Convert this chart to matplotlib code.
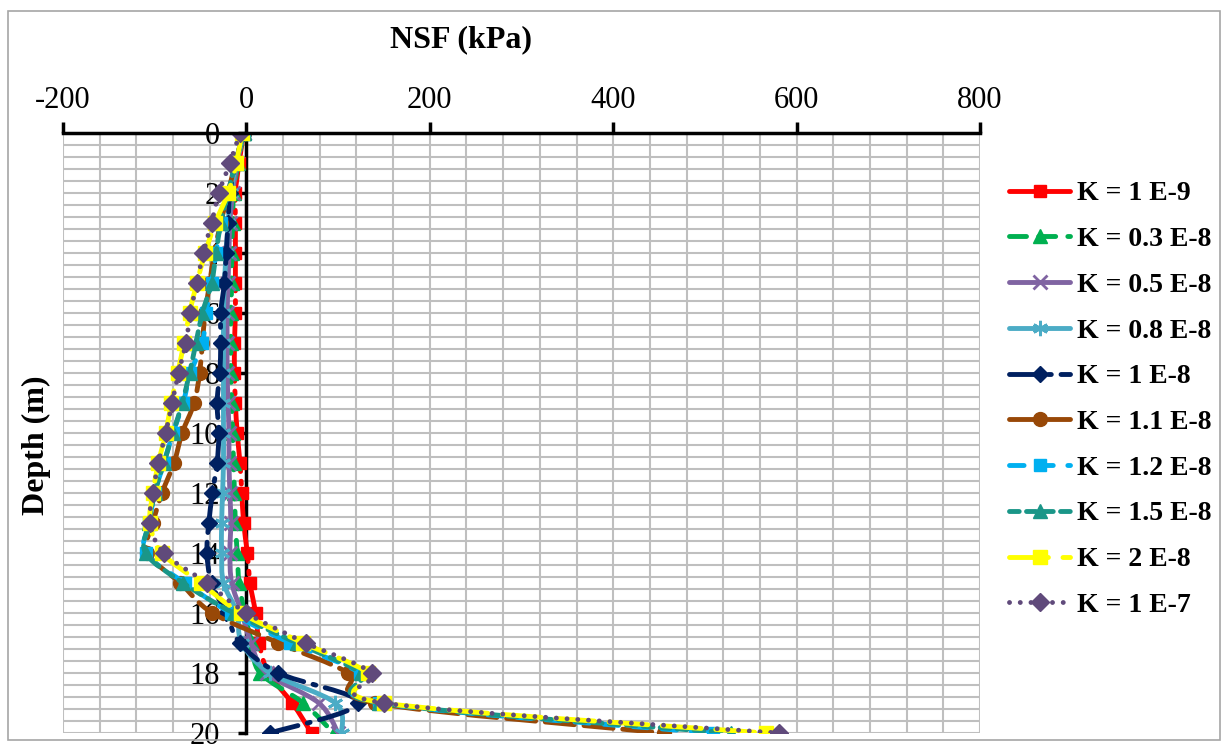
import matplotlib
matplotlib.use("Agg")
import matplotlib.pyplot as plt
from matplotlib.patches import Rectangle, PathPatch
from matplotlib.path import Path
from matplotlib.lines import Line2D
import numpy as np

plt.rcParams['font.family'] = ['Liberation Serif', 'DejaVu Serif']
plt.rcParams['axes.unicode_minus'] = False

depth = list(range(0, 21))

nsf_k1e9 = [-3, -8, -12, -12, -12, -12, -12, -13, -13, -12, -10, -7, -5, -3, 1, 4, 10, 14, 24, 50, 71]
nsf_k03e8 = [-3, -9, -14, -15, -16, -16, -17, -17, -17, -16, -15, -14, -13, -12, -10, -8, -2, 6, 15, 62, 95]
nsf_k05e8 = [-3, -10, -15, -18, -19, -20, -21, -21, -21, -20, -19, -19, -18, -17, -18, -16, -5, 5, 22, 79, 100]
nsf_k08e8 = [-3, -11, -17, -20, -22, -24, -25, -25, -25, -25, -25, -25, -26, -27, -27, -25, -10, -5, 26, 97, 104]
nsf_k1e8 = [-3, -12, -18, -20, -22, -24, -28, -28, -29, -32, -30, -32, -37, -41, -43, -38, -22, -7, 35, 122, 26]
nsf_k11e8 = [-3, -12, -20, -28, -35, -40, -45, -48, -51, -57, -70, -79, -92, -102, -108, -72, -37, 35, 111, 140, 455]
nsf_k12e8 = [-3, -12, -20, -28, -33, -38, -44, -48, -61, -69, -80, -90, -100, -106, -110, -67, -17, 48, 124, 145, 509]
nsf_k15e8 = [-3, -12, -20, -28, -33, -38, -48, -55, -62, -70, -80, -90, -100, -106, -110, -69, -14, 55, 125, 145, 528]
nsf_k2e8 = [-5, -11, -20, -34, -45, -54, -62, -68, -75, -82, -88, -96, -102, -105, -92, -50, -6, 62, 133, 150, 567]
nsf_k1e7 = [-7, -18, -30, -38, -47, -54, -61, -66, -74, -81, -88, -96, -102, -105, -90, -43, 0, 65, 137, 150, 581]

labels = ["K = 1 E-9", "K = 0.3 E-8", "K = 0.5 E-8", "K = 0.8 E-8", "K = 1 E-8",
          "K = 1.1 E-8", "K = 1.2 E-8", "K = 1.5 E-8", "K = 2 E-8", "K = 1 E-7"]

series = [nsf_k1e9, nsf_k03e8, nsf_k05e8, nsf_k08e8, nsf_k1e8,
          nsf_k11e8, nsf_k12e8, nsf_k15e8, nsf_k2e8, nsf_k1e7]

styles = [
    dict(color="#FF0000", ls=(0, (14, 2, 0.6, 2)), marker="s", ms=9),
    dict(color="#00B050", ls=(0, (3.5, 2.5)), marker="^", ms=10),
    dict(color="#8064A2", ls="-", marker="x", ms=10, mew=2),
    dict(color="#4BACC6", ls="-", marker=(6, 2, 0), ms=11, mew=2),
    dict(color="#002060", ls=(0, (6, 2, 0.6, 2)), marker="D", ms=8.5),
    dict(color="#984807", ls=(0, (6, 2)), marker="o", ms=10),
    dict(color="#00B0F0", ls=(0, (3, 3)), marker="s", ms=9),
    dict(color="#1A9688", ls=(0, (2, 1.5)), marker="^", ms=10),
    dict(color="#FFFF00", ls=(0, (8, 3)), marker="s", ms=10),
    dict(color="#604A7B", ls=(0, (0.01, 2.2)), marker="D", ms=9),
]

LW = 3.5


def smooth_path(xs, ys):
    """Cubic Bezier path through the points (Catmull-Rom control points)."""
    p = np.column_stack([xs, ys]).astype(float)
    n = len(p)
    verts = [p[0]]
    codes = [Path.MOVETO]
    for i in range(n - 1):
        p0 = p[i - 1] if i > 0 else p[i]
        p1, p2 = p[i], p[i + 1]
        p3 = p[i + 2] if i + 2 < n else p[i + 1]
        c1 = p1 + (p2 - p0) / 6.0
        c2 = p2 - (p3 - p1) / 6.0
        verts += [c1, c2, p2]
        codes += [Path.CURVE4] * 3
    return Path(verts, codes)


W, H = 1229, 746
fig = plt.figure(figsize=(W / 100, H / 100), dpi=100)
ax = fig.add_axes([63 / W, 1 - 733 / H, (980 - 63) / W, (733 - 133) / H])

handles = []
for z, (vals, lab, st) in enumerate(zip(series, labels, styles)):
    patch = PathPatch(smooth_path(vals, depth), fill=False, edgecolor=st["color"],
                      lw=LW, linestyle=st["ls"], capstyle="round", zorder=2 + z * 0.01)
    ax.add_patch(patch)
    ax.plot(vals, depth, ls="none", marker=st["marker"], ms=st["ms"],
            mew=st.get("mew", 1), mfc=st["color"], mec=st["color"], zorder=2 + z * 0.01)
    handles.append(Line2D([], [], color=st["color"], ls=st["ls"], lw=LW,
                          marker=st["marker"], ms=st["ms"], mew=st.get("mew", 1),
                          mfc=st["color"], mec=st["color"], dash_capstyle="round",
                          solid_capstyle="round", label=lab))

ax.set_xlim(-200, 800)
ax.set_ylim(20, 0)

ax.xaxis.tick_top()
ax.set_xticks(np.arange(-200, 801, 200))
ax.set_xticks(np.arange(-200, 801, 40), minor=True)
ax.set_yticks(np.arange(0, 21, 2))
ax.set_yticks(np.arange(0, 20.01, 0.4), minor=True)

ax.grid(True, which="both", color="#BFBFBF", lw=1.5)
ax.set_axisbelow(True)

for s in ["bottom", "right"]:
    ax.spines[s].set_visible(False)
ax.spines["left"].set_position(("data", 0))
ax.spines["left"].set_linewidth(2.5)
ax.spines["top"].set_linewidth(2.5)
ax.spines["left"].set_zorder(1.5)

ax.tick_params(axis="x", which="major", direction="out", length=8, width=2.5,
               labelsize=22, pad=5, top=True, bottom=False)
ax.tick_params(axis="y", which="major", direction="out", length=6, width=2.5,
               labelsize=22, pad=13)
ax.tick_params(which="minor", length=0)

fig.text(461 / W, 1 - 40 / H, "NSF (kPa)", fontsize=23, fontweight="bold",
         ha="center", va="center")
fig.text(36 / W, 1 - 445 / H, "Depth (m)", fontsize=23, fontweight="bold",
         rotation=90, ha="center", va="center")

fig.legend(handles=handles, loc="upper left", bbox_to_anchor=(1009 / W, 1 - 181 / H),
           frameon=False, numpoints=1, handlelength=2.2, handletextpad=0.25,
           borderpad=0, borderaxespad=0,
           labelspacing=0.73, prop=dict(size=20, weight="bold"))

fig.patches.append(Rectangle((8 / W, 1 - 740 / H), (1220 - 8) / W, (740 - 11) / H,
                             transform=fig.transFigure, fill=False,
                             edgecolor="#A6A6A6", lw=1.2))

fig.savefig("out.png", dpi=100)
